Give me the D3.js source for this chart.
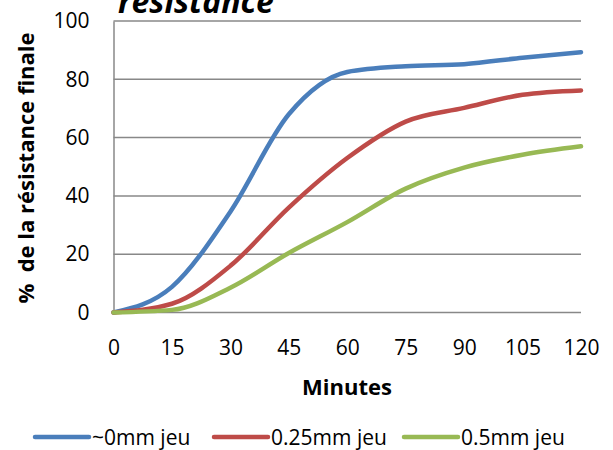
<!DOCTYPE html>
<html>
<head>
<meta charset="utf-8">
<script src="https://cdn.jsdelivr.net/npm/d3@7"></script>
<style>
  body { margin: 0; background: #fff; }
  text { font-family: "Open Sans", "Liberation Sans", sans-serif; }
</style>
</head>
<body>
<div id="chart"></div>
<script>
// data
const minutes = [0, 15, 30, 45, 60, 75, 90, 105, 120];
const seriesNames = ["~0mm jeu", "0.25mm jeu", "0.5mm jeu"];
const jeu0 = [0, 8.8, 34.6, 68, 82.5, 84.5, 85.2, 87.4, 89.3];
const jeu025 = [0, 3, 16, 36, 53, 65.5, 70.2, 74.7, 76.2];
const jeu05 = [0, 0.9, 8.5, 20.4, 31, 42.5, 49.7, 54.1, 57];
const yTicks = [0, 20, 40, 60, 80, 100];
const colors = ["#4a7ebb", "#be4b48", "#98b954"];

const W = 613, H = 450;
const margin = { top: 21, right: 32, bottom: 137.5, left: 113.5 };
const width = W - margin.left - margin.right;
const height = H - margin.top - margin.bottom;

const svg = d3.select("#chart").append("svg")
    .attr("width", W).attr("height", H);

// title, cut at the top like the original
svg.append("text")
    .attr("x", 118).attr("y", 13)
    .style("font-size", "32px").style("font-weight", "bold").style("font-style", "italic")
    .text("résistance");

const g = svg.append("g").attr("transform", `translate(${margin.left},${margin.top})`);

const x = d3.scaleLinear().domain([0, 120]).range([0, width]);
const y = d3.scaleLinear().domain([0, 100]).range([height, 0]);

// gridlines
g.selectAll(".grid").data(yTicks).join("line")
    .attr("x1", 0).attr("x2", width)
    .attr("y1", d => y(d)).attr("y2", d => y(d))
    .attr("stroke", "#888").attr("stroke-width", 1.5);

// y axis
const yAxis = g.append("g").call(d3.axisLeft(y).tickValues(yTicks).tickSize(0).tickPadding(24));
yAxis.select(".domain").attr("stroke", "#888").attr("stroke-width", 1.5);
yAxis.selectAll("text").style("font-size", "21px").style("font-family", "Open Sans").attr("fill", "#000");

// x axis
const xAxis = g.append("g").attr("transform", `translate(0,${height})`)
    .call(d3.axisBottom(x).tickValues(minutes).tickSize(0).tickPadding(28));
xAxis.select(".domain").remove();
xAxis.selectAll("text").style("font-size", "21px").style("font-family", "Open Sans").attr("fill", "#000");

// lines
const line = d3.line()
    .x((d, i) => x(minutes[i]))
    .y(d => y(d))
    .curve(d3.curveMonotoneX);

[jeu0, jeu025, jeu05].forEach((s, i) => {
  g.append("path").datum(s)
    .attr("d", line)
    .attr("fill", "none")
    .attr("stroke", colors[i])
    .attr("stroke-width", 4.5)
    .attr("stroke-linecap", "round");
});

// axis titles
svg.append("text")
    .attr("x", 347).attr("y", 395)
    .attr("text-anchor", "middle")
    .style("font-size", "22px").style("font-weight", "bold")
    .text("Minutes");

svg.append("text")
    .attr("transform", "translate(34,168) rotate(-90)")
    .attr("text-anchor", "middle")
    .attr("xml:space", "preserve")
    .style("font-size", "22px").style("font-weight", "bold")
    .style("white-space", "pre")
    .text("%  de la résistance finale");

// legend
const legendX = [35, 214, 404];
const legend = svg.selectAll(".leg").data(seriesNames).join("g")
    .attr("transform", (d, i) => `translate(${legendX[i]},437)`);
legend.append("line")
    .attr("x1", 0).attr("x2", 54).attr("y1", 0).attr("y2", 0)
    .attr("stroke", (d, i) => colors[i]).attr("stroke-width", 4.5)
    .attr("stroke-linecap", "round");
legend.append("text")
    .attr("x", 57).attr("y", 7.5)
    .style("font-size", "21px")
    .text(d => d);
</script>
</body>
</html>
